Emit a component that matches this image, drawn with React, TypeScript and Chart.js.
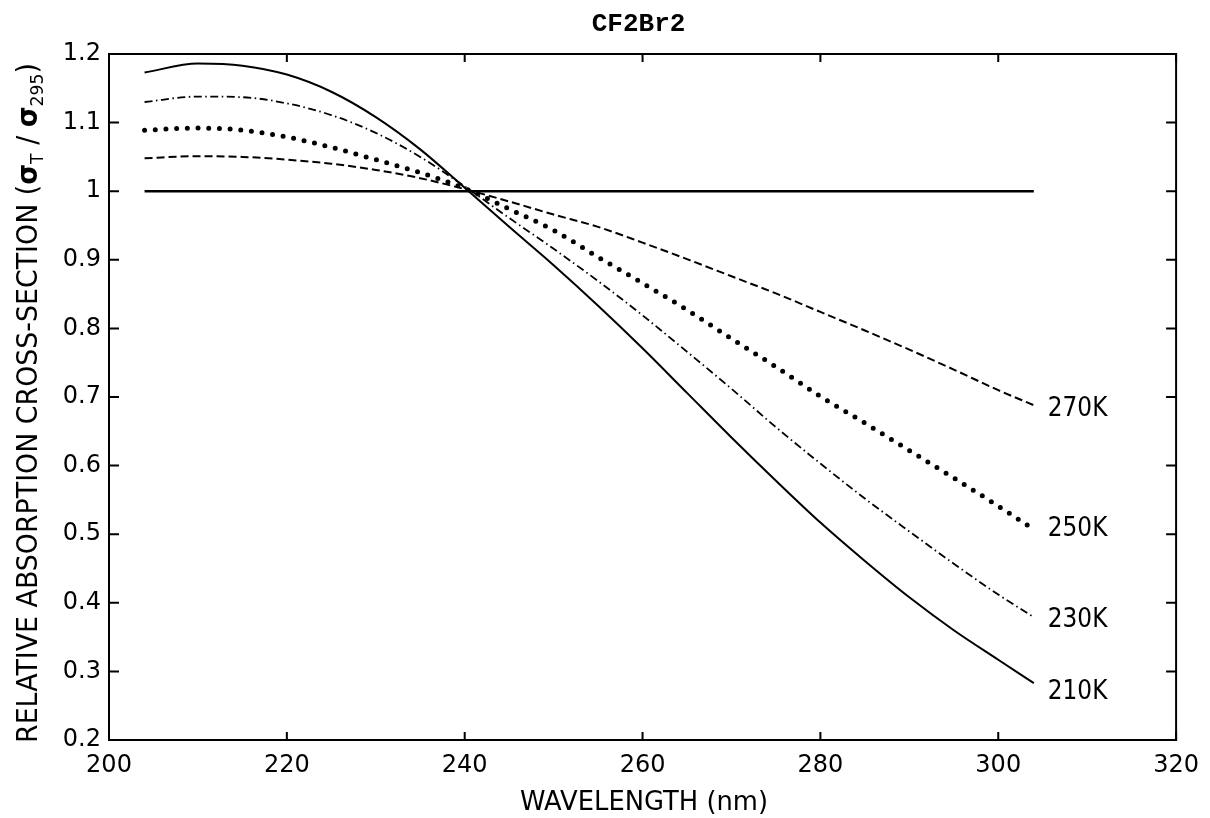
import React, { useEffect, useRef } from 'react';
import { Chart, registerables } from 'chart.js';

Chart.register(...registerables);

// ---- data ----
const wavelengths = [204, 210, 215, 220, 225, 230, 235, 240, 245, 250, 255, 260, 265, 270, 275, 280, 285, 290, 295, 300, 304];
const k210 = [1.173, 1.186, 1.183, 1.170, 1.145, 1.108, 1.061, 1.005, 0.948, 0.892, 0.833, 0.771, 0.706, 0.641, 0.578, 0.517, 0.461, 0.408, 0.360, 0.317, 0.283];
const k230 = [1.130, 1.138, 1.137, 1.128, 1.111, 1.085, 1.050, 1.007, 0.961, 0.916, 0.869, 0.819, 0.766, 0.712, 0.656, 0.603, 0.552, 0.504, 0.457, 0.412, 0.379];
const k250 = [1.089, 1.092, 1.089, 1.079, 1.064, 1.046, 1.027, 1.004, 0.974, 0.943, 0.904, 0.866, 0.827, 0.785, 0.744, 0.701, 0.662, 0.622, 0.582, 0.541, 0.507];
const k270 = [1.048, 1.051, 1.050, 1.046, 1.040, 1.031, 1.019, 1.003, 0.985, 0.966, 0.948, 0.925, 0.901, 0.876, 0.851, 0.824, 0.797, 0.769, 0.740, 0.710, 0.688];
const refWavelengths = [204, 304];
const k295 = [1, 1];
const curveLabels = ['210K', '230K', '250K', '270K'];
const titleText = 'CF2Br2';
const xTitle = 'WAVELENGTH (nm)';
const yTitleMain = 'RELATIVE ABSORPTION CROSS-SECTION (';

const toPts = (xs: number[], ys: number[]) => xs.map((x, i) => ({ x, y: ys[i] }));

const decorPlugin = {
  id: 'decor',
  afterDraw(chart: any) {
    const { ctx, chartArea: a, scales } = chart;
    const xs = scales.x;
    const ys = scales.y;
    ctx.save();
    ctx.strokeStyle = '#000';
    ctx.fillStyle = '#000';
    // frame
    ctx.lineWidth = 2;
    ctx.strokeRect(a.left, a.top, a.right - a.left, a.bottom - a.top);
    // inward ticks
    ctx.lineWidth = 2;
    ctx.beginPath();
    xs.ticks.forEach((t: any) => {
      const px = xs.getPixelForValue(t.value);
      ctx.moveTo(px, a.bottom);
      ctx.lineTo(px, a.bottom - 8);
      ctx.moveTo(px, a.top);
      ctx.lineTo(px, a.top + 8);
    });
    ys.ticks.forEach((t: any) => {
      const py = ys.getPixelForValue(t.value);
      ctx.moveTo(a.left, py);
      ctx.lineTo(a.left + 10, py);
      ctx.moveTo(a.right, py);
      ctx.lineTo(a.right - 10, py);
    });
    ctx.stroke();

    // title
    ctx.font = 'bold 26px "Liberation Mono", "DejaVu Sans Mono", monospace';
    ctx.textAlign = 'center';
    ctx.textBaseline = 'alphabetic';
    ctx.fillText(titleText, (a.left + a.right) / 2 - 4, 31);

    // curve labels
    const ends = [k210, k230, k250, k270];
    const dy = [7, 1, -2, 2];
    ctx.font = '27px "DejaVu Sans", sans-serif';
    ctx.textAlign = 'left';
    ctx.textBaseline = 'middle';
    ends.forEach((arr, i) => {
      const px = xs.getPixelForValue(wavelengths[wavelengths.length - 1]) + 14;
      const py = ys.getPixelForValue(arr[arr.length - 1]) + dy[i];
      ctx.save();
      ctx.translate(px, py);
      ctx.scale(0.86, 1);
      ctx.fillText(curveLabels[i], 0, 2);
      ctx.restore();
    });

    // x axis title
    ctx.font = '27px "DejaVu Sans", sans-serif';
    ctx.textBaseline = 'alphabetic';
    ctx.textAlign = 'left';
    const xw = ctx.measureText(xTitle).width;
    const xsc = 248 / xw;
    ctx.save();
    ctx.translate(644 - 124, 810);
    ctx.scale(xsc, 1);
    ctx.fillText(xTitle, 0, 0);
    ctx.restore();

    // y axis title with subscripts
    const big = '28px "DejaVu Sans", sans-serif';
    const small = '18px "DejaVu Sans", sans-serif';
    const sig = 'bold 28px "DejaVu Sans", sans-serif';
    const parts = [
      { t: yTitleMain, f: big, sub: false },
      { t: 'σ', f: sig, sub: false },
      { t: 'T', f: small, sub: true },
      { t: ' / ', f: big, sub: false },
      { t: 'σ', f: sig, sub: false },
      { t: '295', f: small, sub: true },
      { t: ')', f: big, sub: false },
    ];
    let total = 0;
    const widths = parts.map((p) => {
      ctx.font = p.f;
      const w = ctx.measureText(p.t).width;
      total += w;
      return w;
    });
    const ysc = 680 / total;
    ctx.save();
    ctx.translate(37, 743);
    ctx.rotate(-Math.PI / 2);
    ctx.scale(ysc, 1);
    let off = 0;
    parts.forEach((p, i) => {
      ctx.font = p.f;
      ctx.fillText(p.t, off, p.sub ? 6 : 0);
      off += widths[i];
    });
    ctx.restore();

    ctx.restore();
  },
};

export default function App() {
  const ref = useRef<HTMLCanvasElement>(null);
  useEffect(() => {
    if (!ref.current) return;
    const common = { pointRadius: 0, borderColor: '#000', fill: false, cubicInterpolationMode: 'monotone' as const };
    const chart = new Chart(ref.current, {
      type: 'line',
      data: {
        datasets: [
          { ...common, label: '295K', data: toPts(refWavelengths, k295), borderWidth: 2.5 },
          { ...common, label: '210K', data: toPts(wavelengths, k210), borderWidth: 2 },
          { ...common, label: '230K', data: toPts(wavelengths, k230), borderWidth: 1.8, borderDash: [8, 3.5, 1.5, 3.5] },
          { ...common, label: '250K', data: toPts(wavelengths, k250), borderWidth: 5, borderDash: [0, 10.7], borderCapStyle: 'round' },
          { ...common, label: '270K', data: toPts(wavelengths, k270), borderWidth: 2, borderDash: [8, 4] },
        ],
      },
      options: {
        animation: false,
        responsive: false,
        devicePixelRatio: 1,
        layout: { padding: { left: 0, right: 29, top: 54, bottom: 0 } },
        plugins: { legend: { display: false }, title: { display: false }, tooltip: { enabled: false } },
        scales: {
          x: {
            type: 'linear',
            min: 200,
            max: 320,
            grid: { display: false, drawTicks: false },
            border: { display: false },
            ticks: {
              stepSize: 20,
              color: '#000',
              font: { family: '"DejaVu Sans", sans-serif', size: 24 },
              padding: 11,
              maxRotation: 0,
              autoSkip: false,
            },
            afterFit: (s: any) => { s.height = 78; },
          },
          y: {
            type: 'linear',
            min: 0.2,
            max: 1.2,
            grid: { display: false, drawTicks: false },
            border: { display: false },
            ticks: {
              stepSize: 0.1,
              color: '#000',
              font: { family: '"DejaVu Sans", sans-serif', size: 24 },
              padding: 8,
              callback: (v: any) => String(Math.round(Number(v) * 10) / 10),
            },
            afterFit: (s: any) => { s.width = 109; },
          },
        },
      },
      plugins: [decorPlugin],
    });
    return () => chart.destroy();
  }, []);
  return (
    <div style={{ position: 'fixed', left: 0, top: 0, width: 1210, height: 818, background: '#fff' }}>
      <canvas ref={ref} width={1210} height={818} style={{ display: 'block' }} />
    </div>
  );
}
